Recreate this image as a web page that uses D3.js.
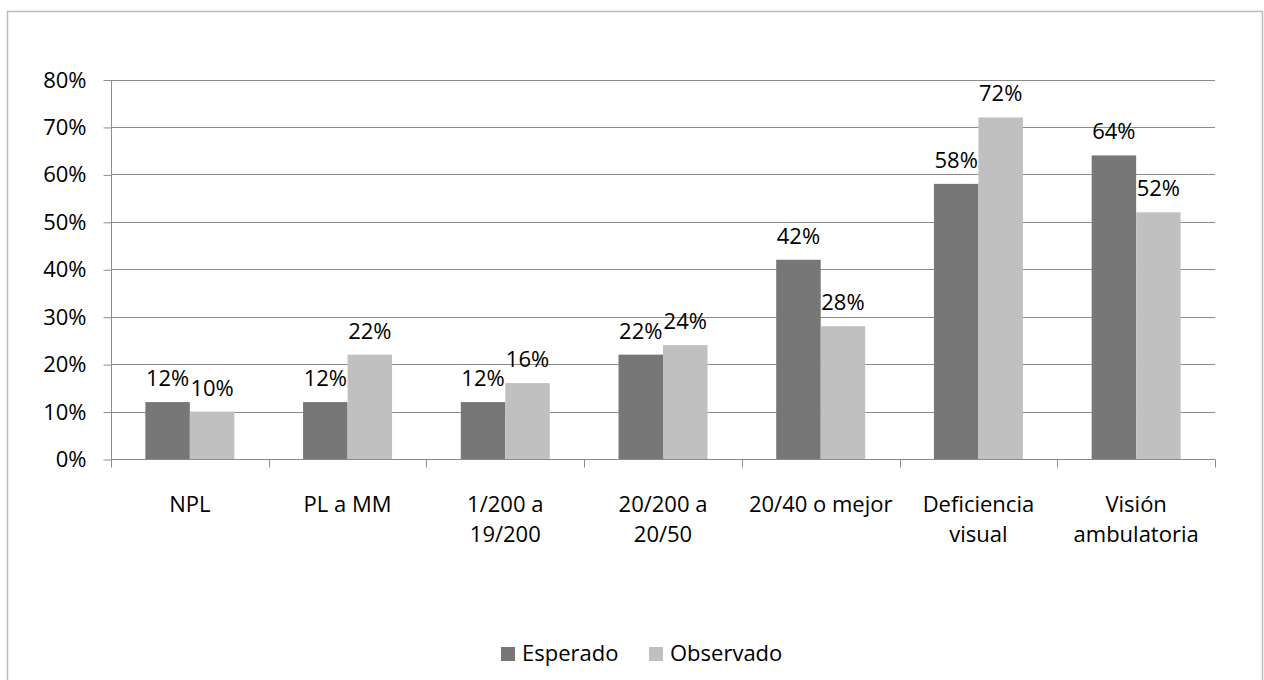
<!DOCTYPE html>
<html>
<head>
<meta charset="utf-8">
<script src="https://cdn.jsdelivr.net/npm/d3@7"></script>
<style>
  html, body { margin: 0; padding: 0; background: #fff; }
  svg { display: block; font-family: "Open Sans", sans-serif; }
</style>
</head>
<body>
<svg id="chart" width="1264" height="680"></svg>
<script>
const categories = [["NPL"], ["PL a MM"], ["1/200 a", "19/200"], ["20/200 a", "20/50"], ["20/40 o mejor"], ["Deficiencia", "visual"], ["Visión", "ambulatoria"]];
const seriesNames = ["Esperado", "Observado"];
const esperado = [12, 12, 12, 22, 42, 58, 64];
const observado = [10, 22, 16, 24, 28, 72, 52];
const yTicks = [0, 10, 20, 30, 40, 50, 60, 70, 80];
const colors = ["#777777", "#c0c0c0"];

(function () {
const svg = d3.select("#chart");
const fontSize = 22;

// outer border
svg.append("rect")
  .attr("x", 7.5).attr("y", 11.5)
  .attr("width", 1255).attr("height", 700)
  .attr("fill", "#fff").attr("stroke", "#bcbcbc").attr("stroke-width", 1.5);

const pLeft = 111, pRight = 1215, pTop = 79.5, pBottom = 459;
const keys = categories.map((c, i) => i);
const x = d3.scaleBand().domain(keys).range([pLeft, pRight]).paddingInner(0).paddingOuter(0);
const x1 = d3.scaleBand().domain(seriesNames).range([0, x.bandwidth()]).paddingInner(0).paddingOuter(0.772);
const y = d3.scaleLinear().domain([0, 80]).range([pBottom, pTop]);

// gridlines
svg.append("g").selectAll("line").data(yTicks.filter(t => t > 0)).join("line")
  .attr("x1", pLeft).attr("x2", pRight)
  .attr("y1", d => Math.round(y(d)) + 0.5).attr("y2", d => Math.round(y(d)) + 0.5)
  .attr("stroke", "#8c8c8c").attr("stroke-width", 1);

// y axis
const yAxis = d3.axisLeft(y).tickValues(yTicks).tickFormat(d => d + "%").tickSize(8).tickPadding(17);
const gy = svg.append("g").attr("transform", `translate(${pLeft + 0.5},0.5)`).call(yAxis);
gy.select(".domain").attr("stroke", "#8c8c8c").attr("d", `M0,${y(80)}V${y(0)}`);
gy.selectAll(".tick line").attr("stroke", "#8c8c8c");
gy.selectAll(".tick text").attr("font-size", fontSize).attr("fill", "#000").attr("font-family", "Open Sans");

// bars
const series = [esperado, observado];
const gBars = svg.append("g");
seriesNames.forEach((name, si) => {
  gBars.selectAll(".bar" + si).data(series[si]).join("rect")
    .attr("class", "bar" + si)
    .attr("x", (d, i) => x(i) + x1(name))
    .attr("y", d => y(d))
    .attr("width", x1.bandwidth())
    .attr("height", d => y(0) - y(d))
    .attr("fill", colors[si]);
  gBars.selectAll(".lab" + si).data(series[si]).join("text")
    .attr("class", "lab" + si)
    .attr("x", (d, i) => x(i) + x1(name) + x1.bandwidth() / 2)
    .attr("y", d => y(d) - 16)
    .attr("text-anchor", "middle")
    .attr("font-size", fontSize)
    .attr("fill", "#000")
    .text(d => d + "%");
});

// x axis
const xAxis = d3.axisBottom(x).tickSize(0).tickFormat("");
const gx = svg.append("g").attr("transform", `translate(0,${Math.round(pBottom) + 0.5})`).call(xAxis);
gx.select(".domain").attr("stroke", "#8c8c8c").attr("d", `M${pLeft},0H${pRight}`);
gx.selectAll(".tick").remove();
const boundaries = keys.map(k => x(k)).concat([pRight]);
gx.selectAll(".sep").data(boundaries).join("line")
  .attr("class", "sep")
  .attr("x1", d => Math.round(d) + 0.5).attr("x2", d => Math.round(d) + 0.5)
  .attr("y1", 0).attr("y2", 8)
  .attr("stroke", "#8c8c8c");

// category labels
const gl = svg.append("g");
categories.forEach((lines, i) => {
  const t = gl.append("text")
    .attr("x", x(i) + x.bandwidth() / 2)
    .attr("y", 512)
    .attr("text-anchor", "middle")
    .attr("font-size", fontSize)
    .attr("fill", "#000");
  lines.forEach((ln, li) => {
    t.append("tspan").attr("x", x(i) + x.bandwidth() / 2).attr("dy", li === 0 ? 0 : 30).text(ln);
  });
});

// legend
const legendX = [501, 649];
const lg = svg.append("g");
seriesNames.forEach((name, si) => {
  lg.append("rect").attr("x", legendX[si]).attr("y", 647).attr("width", 14).attr("height", 14).attr("fill", colors[si]);
  lg.append("text").attr("x", legendX[si] + 21).attr("y", 661).attr("font-size", fontSize).attr("fill", "#000").text(name);
});
})();
</script>
</body>
</html>
